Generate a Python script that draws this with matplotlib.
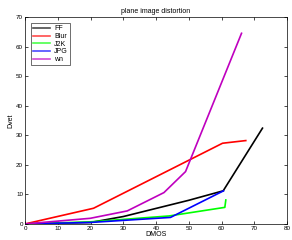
import matplotlib
matplotlib.use("Agg")
import matplotlib.pyplot as plt

# =========================================================
# Data
# =========================================================
ff_x = [0, 20, 30, 50, 60.5, 72.5]
ff_y = [0, 0.5, 2.5, 8, 11.2, 32.4]

blur_x = [0, 20.9, 60.3, 67.4]
blur_y = [0, 5.3, 27.3, 28.2]

j2k_x = [0, 20, 44, 61, 61.3]
j2k_y = [0, 0.7, 2.7, 5.6, 8.1]

jpg_x = [0, 20, 44.4, 60.6]
jpg_y = [0, 0.5, 2.2, 11.2]

wn_x = [0, 19.9, 31.2, 42.4, 49.0, 66.1]
wn_y = [0, 1.9, 4.4, 10.6, 17.7, 64.5]

x_ticks = list(range(0, 81, 10))
y_ticks = list(range(0, 71, 10))

# =========================================================
# Plot
# =========================================================
plt.rcParams["font.family"] = "Liberation Sans"
fig = plt.figure(figsize=(2.92, 2.40), dpi=100)
ax = fig.add_axes([0.086, 0.067, 0.897, 0.862])

lw = 1.2
ax.plot(ff_x, ff_y, color="k", linewidth=lw, label="FF")
ax.plot(blur_x, blur_y, color="r", linewidth=lw, label="Blur")
ax.plot(j2k_x, j2k_y, color="#00ff00", linewidth=lw, label="J2K")
ax.plot(jpg_x, jpg_y, color="b", linewidth=lw, label="JPG")
ax.plot(wn_x, wn_y, color="m", linewidth=lw, label="wn")

ax.set_xlim(0, 80)
ax.set_ylim(0, 70)
ax.set_xticks(x_ticks)
ax.set_yticks(y_ticks)
ax.tick_params(direction="in", length=2, width=0.5, labelsize=4.5,
               top=True, right=True, pad=1.5)
for s in ax.spines.values():
    s.set_linewidth(0.5)

ax.set_title("plane image distortion", fontsize=5, pad=3)
ax.set_xlabel("DMOS", fontsize=5, labelpad=0)
ax.set_ylabel("Dvet", fontsize=5, labelpad=1)

leg = ax.legend(loc="upper left", fontsize=5, frameon=True, fancybox=False,
                edgecolor="k", handlelength=2.4, handletextpad=0.6,
                borderpad=0.3, labelspacing=0.1, borderaxespad=0.9)
leg.get_frame().set_linewidth(0.5)
for h in leg.get_lines():
    h.set_alpha(0.7)

fig.savefig("out.png", dpi=100)
